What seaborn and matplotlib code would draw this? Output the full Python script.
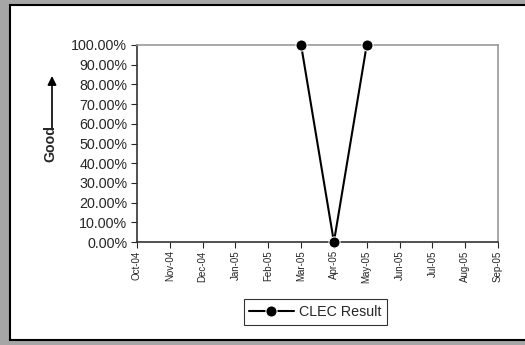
import numpy as np
import pandas as pd
import seaborn as sns
import matplotlib.pyplot as plt
from matplotlib.patches import Rectangle
from matplotlib.ticker import FuncFormatter

# Monthly data (only Mar-05..May-05 reported)
months = ["Oct-04", "Nov-04", "Dec-04", "Jan-05", "Feb-05", "Mar-05",
          "Apr-05", "May-05", "Jun-05", "Jul-05", "Aug-05", "Sep-05"]
clec_result = [np.nan, np.nan, np.nan, np.nan, np.nan, 1.0,
               0.0, 1.0, np.nan, np.nan, np.nan, np.nan]

df = pd.DataFrame({"pos": range(len(months)), "month": months, "CLEC Result": clec_result})
df = df.dropna()

sns.set_style("white")
plt.rcParams["font.family"] = ["Liberation Sans", "DejaVu Sans"]

fig = plt.figure(figsize=(5.25, 3.45), dpi=100)
fig.patch.set_facecolor("#a6a6a6")
# white chart panel with black border
fig.patches.append(Rectangle((10 / 525, 5 / 345), 1.0, 335 / 345, transform=fig.transFigure,
                             facecolor="white", edgecolor="black", linewidth=1.5, zorder=-10))

ax = fig.add_axes([137 / 525, 1 - 242 / 345, 361 / 525, 197 / 345])
sns.lineplot(data=df, x="pos", y="CLEC Result", ax=ax, color="black", marker="o",
             markersize=8, linewidth=1.5, label="CLEC Result", clip_on=False, zorder=5)

ax.set_xlim(0, len(months) - 1)
ax.set_ylim(0, 1)
ax.set_xticks(range(len(months)))
ax.set_xticklabels(months, rotation=90, fontsize=7)
ax.set_yticks(np.arange(0, 1.01, 0.1))
ax.yaxis.set_major_formatter(FuncFormatter(lambda v, p: f"{v * 100:.2f}%"))
ax.tick_params(axis="y", labelsize=10.3, length=4, width=0.8, direction="out", left=True, pad=3)
ax.tick_params(axis="x", length=4, width=0.8, direction="out", bottom=True, pad=2)
ax.set_xlabel("")
ax.set_ylabel("")

for side in ["top", "right"]:
    ax.spines[side].set_color("#999999")
    ax.spines[side].set_linewidth(1.2)
for side in ["left", "bottom"]:
    ax.spines[side].set_color("#333333")
    ax.spines[side].set_linewidth(1.2)

# "Good" label with upward arrow
fig.text(50 / 525, 1 - 143 / 345, "Good", rotation=90, fontsize=10.2, fontweight="bold",
         ha="center", va="center")
ax.annotate("", xy=(52 / 525, 1 - 76 / 345), xytext=(52 / 525, 1 - 129 / 345),
            xycoords="figure fraction", textcoords="figure fraction",
            arrowprops=dict(arrowstyle="-|>", color="black", lw=1.2, mutation_scale=13,
                            shrinkA=0, shrinkB=0))

leg = ax.legend(loc="center", bbox_to_anchor=(315.5 / 525, 1 - 312 / 345),
                bbox_transform=fig.transFigure, fontsize=10.3, frameon=True,
                fancybox=False, handlelength=3.1, handletextpad=0.4, borderpad=0.4)
leg.get_frame().set_edgecolor("black")
leg.get_frame().set_linewidth(0.8)

fig.savefig("out.png", dpi=100, facecolor=fig.get_facecolor())
